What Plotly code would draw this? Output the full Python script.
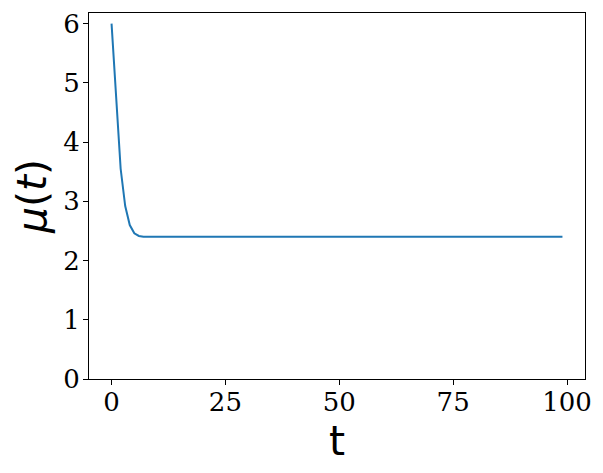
import plotly.graph_objects as go

# time steps and mean value mu(t)
T = list(range(100))
MU = [
    6.0, 4.72, 3.55, 2.92, 2.6, 2.46, 2.415, 2.402, 2.4, 2.4,
    2.4, 2.4, 2.4, 2.4, 2.4, 2.4, 2.4, 2.4, 2.4, 2.4,
    2.4, 2.4, 2.4, 2.4, 2.4, 2.4, 2.4, 2.4, 2.4, 2.4,
    2.4, 2.4, 2.4, 2.4, 2.4, 2.4, 2.4, 2.4, 2.4, 2.4,
    2.4, 2.4, 2.4, 2.4, 2.4, 2.4, 2.4, 2.4, 2.4, 2.4,
    2.4, 2.4, 2.4, 2.4, 2.4, 2.4, 2.4, 2.4, 2.4, 2.4,
    2.4, 2.4, 2.4, 2.4, 2.4, 2.4, 2.4, 2.4, 2.4, 2.4,
    2.4, 2.4, 2.4, 2.4, 2.4, 2.4, 2.4, 2.4, 2.4, 2.4,
    2.4, 2.4, 2.4, 2.4, 2.4, 2.4, 2.4, 2.4, 2.4, 2.4,
    2.4, 2.4, 2.4, 2.4, 2.4, 2.4, 2.4, 2.4, 2.4, 2.4,
]
X_TICKS = [0, 25, 50, 75, 100]
Y_TICKS = [0, 1, 2, 3, 4, 5, 6]

LINE_BLUE = "#1f77b4"
INK = "black"
TICK_FONT = dict(family="DejaVu Serif", size=26, color=INK)
TITLE_FONT = dict(family="DejaVu Sans", size=41, color=INK)

fig = go.Figure()
fig.add_trace(
    go.Scatter(
        x=T,
        y=MU,
        mode="lines",
        line=dict(color=LINE_BLUE, width=2),
        showlegend=False,
    )
)

axis_common = dict(
    showgrid=False,
    zeroline=False,
    showline=True,
    linecolor=INK,
    linewidth=1,
    mirror=True,
    ticks="outside",
    ticklen=5,
    tickwidth=1,
    tickcolor=INK,
    tickfont=TICK_FONT,
    ticklabeloverflow="allow",
)

# the page body has an 8px default margin, so margins are offset by it
fig.update_layout(
    width=603,
    height=473,
    margin=dict(l=81, r=26, t=1, b=102),
    paper_bgcolor="white",
    plot_bgcolor="white",
    xaxis=dict(
        range=[-4.95, 103.95],
        tickvals=X_TICKS,
        ticklabelstandoff=-5,
        title=dict(text="t", font=TITLE_FONT, standoff=1),
        **axis_common,
    ),
    yaxis=dict(
        range=[0, 6.18],
        tickvals=Y_TICKS,
        ticklabelstandoff=-2,
        title=dict(text="<i>μ</i>(<i>t</i>)", font=TITLE_FONT, standoff=7),
        **axis_common,
    ),
)

fig.write_html("out.html")
